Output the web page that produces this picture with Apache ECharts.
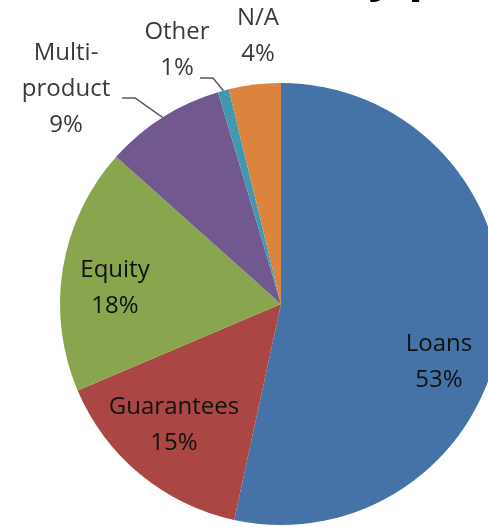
<!DOCTYPE html>
<html><head><meta charset="utf-8">
<script src="https://cdn.jsdelivr.net/npm/echarts@6/dist/echarts.min.js"></script>
<style>html,body{margin:0;padding:0;background:#fff;overflow:hidden}#c{width:488px;height:527px}</style>
</head><body><div id="c"></div>
<script>
// ---- data ----
const categories = ['Loans', 'Guarantees', 'Equity', 'Multi-product', 'Other', 'N/A'];
const shares = [53.4, 15.2, 18.0, 8.8, 0.8, 3.8];
const titleText = 'by product';

// ---- style / layout (not data) ----
const colors = ['#4572A7', '#AA4643', '#89A54E', '#71588F', '#4198AF', '#DB843D'];
const insideSet = [true, true, true, false, false, false];
const labelPos = [[439, 362], [174, 425], [115, 288], [66, 89], [177, 50], [258, 36]];
const leaderEnds = { 3: [[135, 98], [122, 98]], 4: [[213, 78], [200, 78]] };

const total = shares.reduce((a, b) => a + b, 0);
const FONT = '"Open Sans", sans-serif';

const chart = echarts.init(document.getElementById('c'), null, { renderer: 'canvas' });
chart.setOption({
  backgroundColor: '#ffffff',
  animation: false,
  graphic: [{
    type: 'text', x: 338, y: -24,
    style: { text: titleText, font: 'bold 48px ' + FONT, fill: '#000', textVerticalAlign: 'middle' }
  }],
  series: [{
    type: 'pie',
    center: [281, 304],
    radius: 221,
    startAngle: 90,
    clockwise: true,
    avoidLabelOverlap: false,
    emphasis: { disabled: true },
    data: categories.map((name, i) => ({
      name: name,
      value: shares[i],
      itemStyle: { color: colors[i] },
      label: {
        position: insideSet[i] ? 'inside' : 'outside',
        color: insideSet[i] ? '#111111' : '#3a3a3a'
      },
      labelLine: { show: !!leaderEnds[i] }
    })),
    label: {
      show: true,
      fontFamily: FONT,
      fontSize: 24,
      lineHeight: 36,
      align: 'center',
      formatter: p => p.name.replace('-', '-\n') + '\n' + Math.round(p.value / total * 100) + '%'
    },
    labelLine: {
      show: true,
      lineStyle: { color: '#595959', width: 1.5 }
    },
    labelLayout: function (params) {
      const i = params.dataIndex;
      const out = { x: labelPos[i][0], y: labelPos[i][1], align: 'center', verticalAlign: 'middle' };
      if (leaderEnds[i] && params.labelLinePoints) {
        const a = params.labelLinePoints[0];
        out.labelLinePoints = [a, leaderEnds[i][0], leaderEnds[i][1]];
      }
      return out;
    }
  }]
});
</script>
</body></html>
